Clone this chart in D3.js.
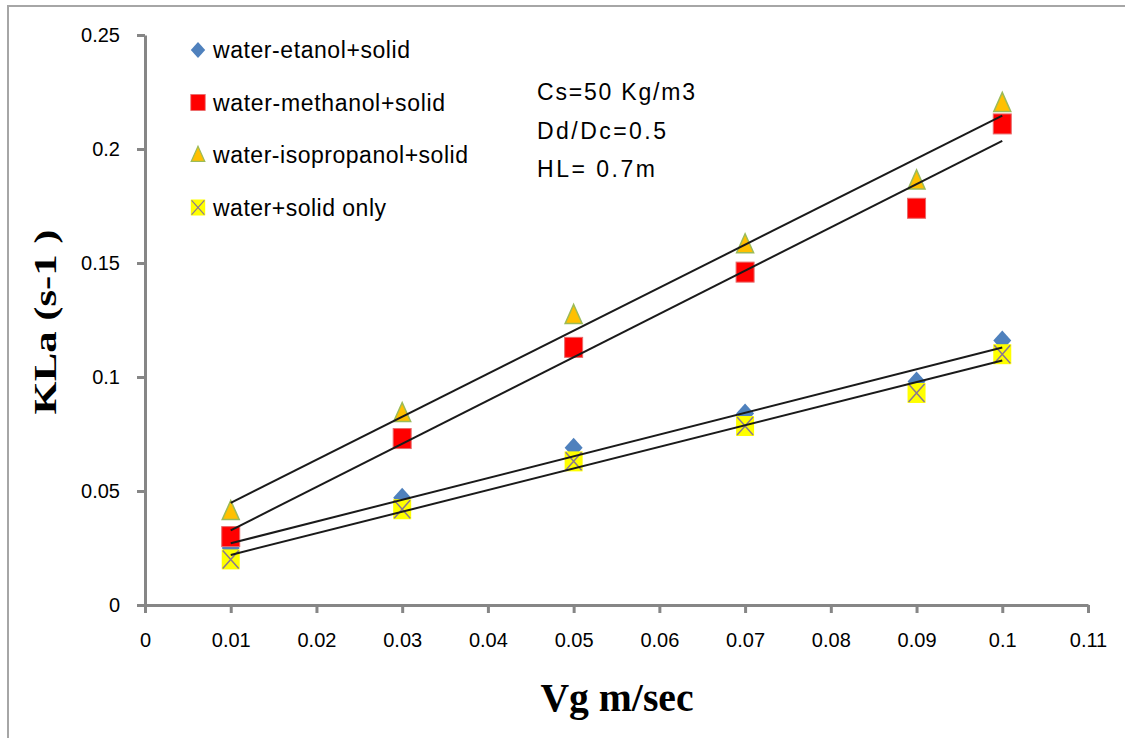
<!DOCTYPE html>
<html>
<head>
<meta charset="utf-8">
<script src="https://cdn.jsdelivr.net/npm/d3@7"></script>
<style>
  body { margin: 0; background: #fff; }
  svg { display: block; }
</style>
</head>
<body>
<div id="chart"></div>
<script>
// values
const vg = [0.01, 0.03, 0.05, 0.07, 0.09, 0.1];
const ethanol = [0.025, 0.047, 0.069, 0.084, 0.098, 0.116];
const methanol = [0.030, 0.073, 0.113, 0.146, 0.174, 0.211];
const isopropanol = [0.041, 0.084, 0.127, 0.158, 0.186, 0.220];
const solidOnly = [0.020, 0.042, 0.063, 0.0785, 0.093, 0.110];
const seriesNames = ["water-etanol+solid", "water-methanol+solid", "water-isopropanol+solid", "water+solid only"];
const xTicks = [0, 0.01, 0.02, 0.03, 0.04, 0.05, 0.06, 0.07, 0.08, 0.09, 0.1, 0.11];
const yTicks = [0, 0.05, 0.1, 0.15, 0.2, 0.25];
const notes = ["Cs=50 Kg/m3", "Dd/Dc=0.5", "HL= 0.7m"];

const W = 1125, H = 738;
const svg = d3.select("#chart").append("svg").attr("width", W).attr("height", H);

// outer frame (only left + top edges show)
svg.append("path").attr("d", "M8,738 L8,6 L1125,6")
  .attr("fill", "none").attr("stroke", "#a6a6a6").attr("stroke-width", 2);

const x = d3.scaleLinear().domain([0, 0.11]).range([145, 1088]);
const y = d3.scaleLinear().domain([0, 0.25]).range([605, 35]);

const axisColor = "#868686";
const textFont = "'Liberation Sans Narrow', 'Liberation Sans', sans-serif";
const fmt = d => String(+d.toFixed(2));

const xAxis = svg.append("g").attr("transform", "translate(0,605)")
  .call(d3.axisBottom(x).tickValues(xTicks).tickSize(8).tickSizeOuter(0).tickFormat(fmt));
const yAxis = svg.append("g").attr("transform", "translate(145,0)")
  .call(d3.axisLeft(y).tickValues(yTicks).tickSize(8).tickSizeOuter(0).tickFormat(fmt));

[xAxis, yAxis].forEach(g => {
  g.select(".domain").attr("stroke", axisColor).attr("stroke-width", 3);
  g.selectAll(".tick line").attr("stroke", axisColor).attr("stroke-width", 3);
  g.selectAll(".tick text").attr("fill", "#000").attr("font-family", textFont)
    .attr("font-size", 20);
});
xAxis.selectAll(".tick text").attr("dy", "1.55em");
yAxis.selectAll(".tick text").attr("x", -25).attr("dy", "0.3em");

const series = [
  { name: seriesNames[0], vals: ethanol, shape: "diamond", w: 197 },
  { name: seriesNames[1], vals: methanol, shape: "square", w: 232 },
  { name: seriesNames[2], vals: isopropanol, shape: "triangle", w: 255 },
  { name: seriesNames[3], vals: solidOnly, shape: "xsquare", w: 173 }
];

function drawMarker(g, shape) {
  if (shape === "diamond") {
    g.append("path").attr("d", "M0,-10 L9,0 L0,10 L-9,0 Z").attr("fill", "#4f81bd");
  } else if (shape === "square") {
    g.append("rect").attr("x", -9).attr("y", -10).attr("width", 18).attr("height", 20)
      .attr("fill", "#ff0000").attr("stroke", "#e86a6a").attr("stroke-width", 1);
  } else if (shape === "triangle") {
    g.append("path").attr("d", "M0,-11 L8.5,8 L-8.5,8 Z")
      .attr("fill", "#ffc000").attr("stroke", "#9bbb59").attr("stroke-width", 1.5);
  } else {
    g.append("rect").attr("x", -9).attr("y", -10).attr("width", 18).attr("height", 20).attr("fill", "#ffff00");
    g.append("path").attr("d", "M-8,-9 L8,9 M8,-9 L-8,9").attr("stroke", "#8a7890").attr("stroke-width", 1.5);
  }
}

const plot = svg.append("g");
series.forEach(s => {
  plot.selectAll(null).data(vg.map((v, i) => [v, s.vals[i]])).join("g")
    .attr("transform", d => `translate(${x(d[0])},${y(d[1])})`)
    .each(function () { drawMarker(d3.select(this), s.shape); });
});

// linear trendlines (least squares fit of each series)
series.forEach(s => {
  const mx = d3.mean(vg), my = d3.mean(s.vals);
  const slope = d3.sum(vg, (v, i) => (v - mx) * (s.vals[i] - my)) / d3.sum(vg, v => (v - mx) ** 2);
  const icpt = my - slope * mx;
  const x0 = d3.min(vg), x1 = d3.max(vg);
  svg.append("line")
    .attr("x1", x(x0)).attr("y1", y(icpt + slope * x0))
    .attr("x2", x(x1)).attr("y2", y(icpt + slope * x1))
    .attr("stroke", "#1a1a1a").attr("stroke-width", 2);
});

// legend
const legend = svg.append("g").attr("transform", "translate(198,50)");
series.forEach((s, i) => {
  const row = legend.append("g").attr("transform", `translate(0,${i * 52.5})`);
  const m = row.append("g").attr("transform", "scale(0.8)");
  drawMarker(m, s.shape);
  row.append("text").attr("x", 15).attr("y", 8)
    .attr("font-family", textFont).attr("font-size", 23).attr("fill", "#000")
    .attr("textLength", s.w).attr("lengthAdjust", "spacing")
    .text(s.name);
});

// conditions note
const noteW = [158, 129, 118];
svg.append("g").selectAll("text").data(notes).join("text")
  .attr("x", 537).attr("y", (d, i) => 100 + i * 38.5)
  .attr("font-family", textFont).attr("font-size", 23).attr("fill", "#000")
  .attr("textLength", (d, i) => noteW[i]).attr("lengthAdjust", "spacing")
  .text(d => d);

// axis titles
svg.append("text").attr("x", 617).attr("y", 711).attr("text-anchor", "middle")
  .attr("font-family", "'Liberation Serif', serif").attr("font-weight", "bold")
  .attr("font-size", 40).attr("textLength", 153).attr("lengthAdjust", "spacingAndGlyphs")
  .text("Vg m/sec");
svg.append("text").attr("transform", "translate(56,322) rotate(-90)").attr("text-anchor", "middle")
  .attr("font-family", "'Liberation Serif', serif").attr("font-weight", "bold")
  .attr("font-size", 32).attr("textLength", 185).attr("lengthAdjust", "spacingAndGlyphs")
  .text("KLa (s-1 )");
</script>
</body>
</html>
